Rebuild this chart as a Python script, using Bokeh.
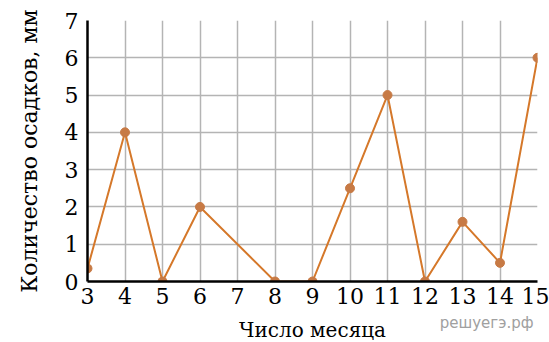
from bokeh.plotting import figure
from bokeh.models import Range1d, FixedTicker, Title
from bokeh.embed import file_html
from bokeh.resources import INLINE

days = [3, 4, 5, 6, 8, 9, 10, 11, 12, 13, 14, 15]
precip = [0.35, 4, 0, 2, 0, 0, 2.5, 5, 0, 1.6, 0.5, 6]
x_ticks = list(range(3, 16))
y_ticks = list(range(0, 8))
x_title = "Число месяца"
y_title = "Количество осадков, мм"
watermark = "решуегэ.рф"

SERIF = "DejaVu Serif"

p = figure(width=549, height=342, frame_width=450, frame_height=261,
           x_range=Range1d(3, 15), y_range=Range1d(0, 7),
           output_backend="svg", toolbar_location=None,
           min_border_left=87, min_border_right=12, min_border_top=20, min_border_bottom=61)
p.outline_line_color = None
p.background_fill_color = "white"
p.border_fill_color = "white"

for ax in (p.xaxis[0], p.yaxis[0]):
    ax.axis_line_color = "black"
    ax.axis_line_width = 2.5
    ax.major_tick_line_color = None
    ax.minor_tick_line_color = None
    ax.major_tick_out = 0
    ax.major_tick_in = 0
    ax.major_label_text_font = SERIF
    ax.major_label_text_font_size = "22px"
    ax.major_label_text_color = "black"
    ax.axis_label_text_font = SERIF
    ax.axis_label_text_font_style = "normal"
    ax.axis_label_text_color = "black"

p.xaxis.axis_label_text_font_size = "20px"
p.yaxis.axis_label_text_font_size = "22px"

p.xaxis.ticker = FixedTicker(ticks=x_ticks)
p.yaxis.ticker = FixedTicker(ticks=y_ticks)
p.xaxis.axis_label = x_title
p.yaxis.axis_label = y_title
p.xaxis.major_label_standoff = 6
p.yaxis.major_label_standoff = 9
p.xaxis.axis_label_standoff = 11
p.yaxis.axis_label_standoff = 20

p.xgrid.ticker = FixedTicker(ticks=x_ticks)
p.ygrid.ticker = FixedTicker(ticks=y_ticks)
p.grid.grid_line_color = "#b4b4b4"
p.grid.grid_line_width = 1.5

p.line(days, precip, line_color="#d5782a", line_width=2)
p.scatter(days, precip, size=9, fill_color="#c77a45", line_color="#c77a45")

p.add_layout(Title(text=watermark, align="right", vertical_align="top", standoff=-61, offset=4,
                   text_font="DejaVu Sans", text_font_size="15px", text_font_style="normal",
                   text_color="#a0a0a0"), "below")

open("out.html", "w").write(file_html(p, INLINE))
